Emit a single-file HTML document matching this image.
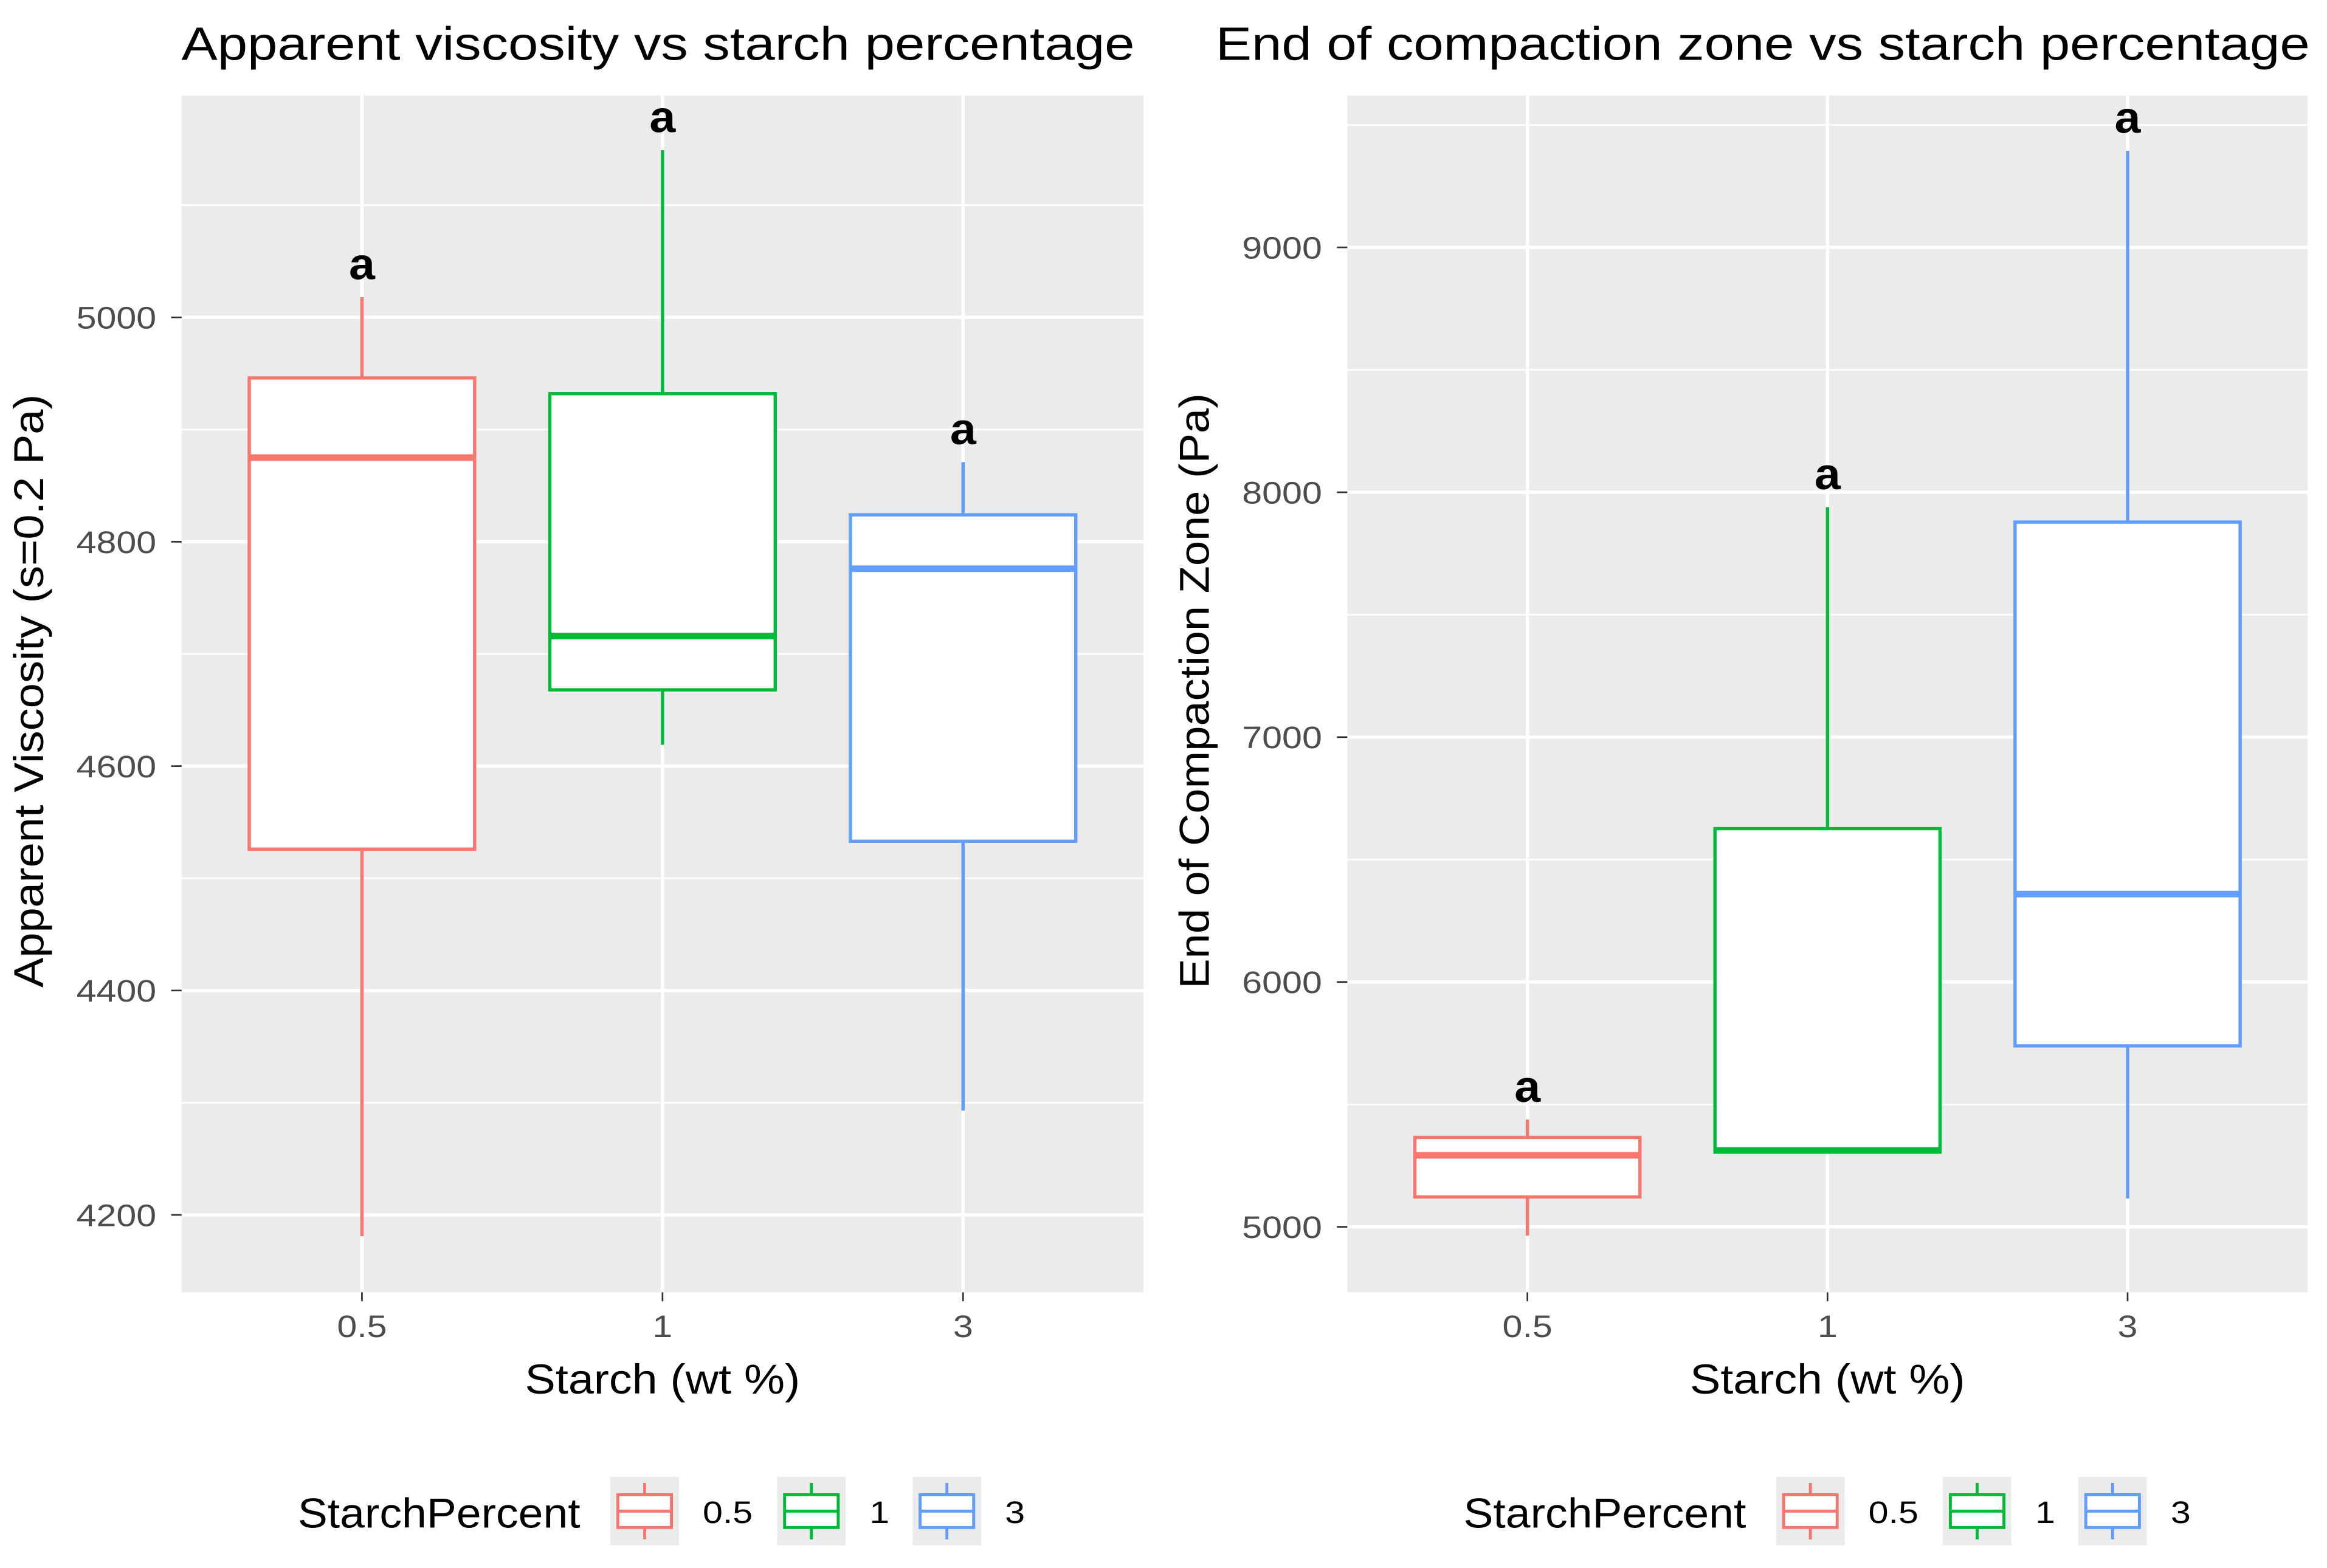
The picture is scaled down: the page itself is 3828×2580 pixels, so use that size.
<!DOCTYPE html>
<html><head><meta charset="utf-8"><style>
html,body{margin:0;padding:0;background:#fff}
svg{display:block}
text{font-family:"Liberation Sans",sans-serif}
</style></head><body>
<svg id="chart" width="3828" height="2580" viewBox="0 0 1563 1053" xmlns="http://www.w3.org/2000/svg"></svg>
<script>
const categories = ["0.5","1","3"];
const colors = ["#F8766D","#00BA38","#619CFF"];
// Left panel: apparent viscosity
const viscLow = [4181, 4619, 4293];
const viscQ1 = [4526, 4668, 4533];
const viscMedian = [4875, 4716, 4776];
const viscQ3 = [4946, 4932, 4824];
const viscHigh = [5018, 5149, 4871];
const viscTicks = [4200, 4400, 4600, 4800, 5000];
const viscLetters = ["a","a","a"];
// Right panel: end of compaction zone
const compLow = [4964, 5305, 5116];
const compQ1 = [5122, 5305, 5739];
const compMedian = [5292, 5312, 6359];
const compQ3 = [5365, 6626, 7878];
const compHigh = [5438, 7939, 9395];
const compTicks = [5000, 6000, 7000, 8000, 9000];
const compLetters = ["a","a","a"];

const NS = "http://www.w3.org/2000/svg";
const svg = document.getElementById("chart");
function mk(tag, attrs, parent, txt){
  const e = document.createElementNS(NS, tag);
  for (const k in attrs) e.setAttribute(k, attrs[k]);
  if (txt !== undefined) e.textContent = txt;
  (parent || svg).appendChild(e);
  return e;
}
function txt(parent, x, y, str, attrs, sx){
  const a = Object.assign({x:0, y:0, "font-family":"Liberation Sans, sans-serif"}, attrs);
  a.transform = `translate(${x} ${y}) scale(${sx || 1.15} 1)`;
  return mk("text", a, parent, str);
}

function panel(cfg){
  const g = mk("g", {});
  
  
  const {x0,x1,y0,y1} = cfg;
  const y = v => cfg.yRef + (v - cfg.vRef) * cfg.pxPer;
  const u = (x1 - x0) / (categories.length + 0.2);
  const xs = i => x0 + (0.6 + i) * u;
  const bg = mk("rect", {x:x0, y:y0, width:x1-x0, height:y1-y0, fill:"#EBEBEB"}, g);
  
  
  const step = cfg.ticks[1] - cfg.ticks[0];
  for (let v = cfg.ticks[0] - step*2; v <= cfg.ticks[cfg.ticks.length-1] + step*2; v += step/2) {
    const yy = y(v);
    if (yy < y0 || yy > y1) continue;
    const major = cfg.ticks.includes(v);
    const ln = mk("line", {x1:x0, x2:x1, y1:yy, y2:yy, stroke:"#fff", "stroke-width": major ? 2.2 : 1.1}, g);
    
    
  }
  categories.forEach((c,i) => {
    const ln = mk("line", {x1:xs(i), x2:xs(i), y1:y0, y2:y1, stroke:"#fff", "stroke-width":2.2}, g);
    
    
    const tk = mk("line", {x1:xs(i), x2:xs(i), y1:y1, y2:y1+6, stroke:"#333", "stroke-width":1.1}, g);
    
    
    const tl = txt(g, xs(i), y1+30, c, {"text-anchor":"middle", "font-size":21, fill:"#4D4D4D"});
    
    
  });
  cfg.ticks.forEach(v => {
    const tk = mk("line", {x1:x0-7, x2:x0, y1:y(v), y2:y(v), stroke:"#333", "stroke-width":1.1}, g);
    
    
    const tl = txt(g, x0-17, y(v)+7.5, v, {"text-anchor":"end", "font-size":21, fill:"#4D4D4D"});
    
    
  });
  const hw = 0.375 * u;
  categories.forEach((c,i) => {
    const cx = xs(i), col = colors[i];
    const bx = mk("g", {}, g);
    
    
    mk("line", {x1:cx, x2:cx, y1:y(cfg.high[i]), y2:y(cfg.q3[i]), stroke:col, "stroke-width":2.2}, bx);
    mk("line", {x1:cx, x2:cx, y1:y(cfg.q1[i]), y2:y(cfg.low[i]), stroke:col, "stroke-width":2.2}, bx);
    mk("rect", {x:cx-hw, y:y(cfg.q3[i]), width:hw*2, height:Math.max(0.1, y(cfg.q1[i])-y(cfg.q3[i])), fill:"#fff", stroke:col, "stroke-width":2.2}, bx);
    mk("line", {x1:cx-hw, x2:cx+hw, y1:y(cfg.med[i]), y2:y(cfg.med[i]), stroke:col, "stroke-width":4.4}, bx);
    const lt = txt(g, cx, y(cfg.high[i])-12, cfg.letters[i], {"text-anchor":"middle", "font-size":30, "font-weight":"bold", "font-family":"DejaVu Sans, sans-serif", fill:"#000"}, 1.05);
    
    
  });
  const t = txt(g, cfg.titleX, 40, cfg.title, {"text-anchor":cfg.titleAnchor, "font-size":31.5, fill:"#000"});
  
  
  const xt = txt(g, (x0+x1)/2, 936, "Starch (wt %)", {"text-anchor":"middle", "font-size":28, fill:"#000"}, 1.1);
  
  
  const ytx = x0 - 93, yty = (y0+y1)/2 - 2;
  const yt = mk("text", {x:0, y:0, "font-family":"Liberation Sans, sans-serif", "text-anchor":"middle", "font-size":28, fill:"#000", transform:`translate(${ytx} ${yty}) rotate(-90) scale(1.08 1)`}, g, cfg.ytitle);
  
  
  const lg = mk("g", {}, g);
  
  
  const lx = x0 + 78;
  txt(lg, lx, 1026, "StarchPercent", {"font-size":28, fill:"#000"}, 1.07);
  const keyX = [lx+210, lx+322, lx+413];
  categories.forEach((c,i) => {
    const k = mk("g", {}, lg);
    
    
    const kx = keyX[i];
    mk("rect", {x:kx, y:992, width:46, height:46, fill:"#EBEBEB"}, k);
    mk("line", {x1:kx+23, x2:kx+23, y1:996, y2:1034, stroke:colors[i], "stroke-width":2}, k);
    mk("rect", {x:kx+5, y:1004, width:36, height:22, fill:"#fff", stroke:colors[i], "stroke-width":2}, k);
    mk("line", {x1:kx+5, x2:kx+41, y1:1015, y2:1015, stroke:colors[i], "stroke-width":2}, k);
    txt(k, kx+62, 1023, c, {"font-size":21, fill:"#000"});
  });
}

panel({name:"viscosity-panel", x0:122, x1:768, y0:64, y1:868, yRef:213, vRef:5000, pxPer:-150.75/200,
  ticks:viscTicks, low:viscLow, q1:viscQ1, med:viscMedian, q3:viscQ3, high:viscHigh, letters:viscLetters,
  title:"Apparent viscosity vs starch percentage", titleX:442, titleAnchor:"middle", ytitle:"Apparent Viscosity (s=0.2 Pa)"});
panel({name:"compaction-panel", x0:905, x1:1550, y0:64, y1:868, yRef:824, vRef:5000, pxPer:-164.5/1000,
  ticks:compTicks, low:compLow, q1:compQ1, med:compMedian, q3:compQ3, high:compHigh, letters:compLetters,
  title:"End of compaction zone vs starch percentage", titleX:1184, titleAnchor:"middle", ytitle:"End of Compaction Zone (Pa)"});
</script>
</body></html>
